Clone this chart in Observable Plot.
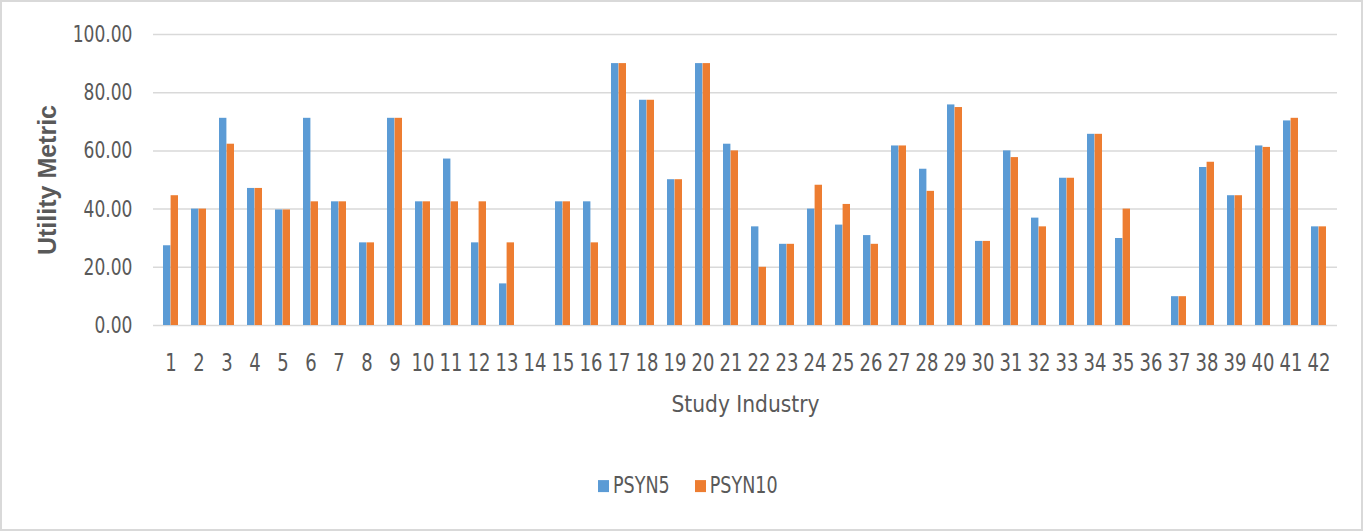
<!DOCTYPE html>
<html>
<head>
<meta charset="utf-8">
<script src="https://cdn.jsdelivr.net/npm/d3@7"></script>
<script src="https://cdn.jsdelivr.net/npm/@observablehq/plot@0.6"></script>
<style>
  body { margin: 0; background: #fff; }
  #wrap { position: relative; width: 1363px; height: 531px; overflow: hidden; background: #fff;
          font-family: "DejaVu Sans Condensed", "Liberation Sans Narrow", sans-serif; color: #595959; }
  #frame { position: absolute; left: 0; top: 0; width: 1359px; height: 527px; border: 2px solid #d9d9d9; pointer-events: none; }
  #chart { position: absolute; left: 0; top: 0; }
  #legend { position: absolute; left: 598px; top: 474px; display: flex; align-items: center; font-size: 19.5px;
            transform: scaleY(1.2); transform-origin: left center; }
  .item { display: flex; align-items: center; margin-right: 25px; }
  .sw { width: 11px; height: 10px; margin-right: 4px; }
</style>
</head>
<body>
<div id="wrap">
  <div id="chart"></div>
  <div id="legend"></div>
  <div id="frame"></div>
</div>
<script>
const studies = d3.range(1, 43);
const seriesNames = ["PSYN5", "PSYN10"];
const seriesColors = ["#5B9BD5", "#ED7D31"];
const psyn5 = [27.4, 40.0, 71.2, 47.1, 39.7, 71.2, 42.5, 28.4, 71.2, 42.5,
               57.2, 28.4, 14.3, 0, 42.5, 42.5, 90.0, 77.4, 50.1, 90.0,
               62.3, 33.9, 27.9, 40.0, 34.5, 30.9, 61.7, 53.7, 75.8, 28.9,
               60.0, 36.9, 50.6, 65.7, 29.9, 0, 9.9, 54.3, 44.6, 61.7,
               70.3, 33.9];
const psyn10 = [44.6, 40.0, 62.3, 47.1, 39.7, 42.5, 42.5, 28.4, 71.2, 42.5,
                42.5, 42.5, 28.4, 0, 42.5, 28.4, 90.0, 77.4, 50.1, 90.0,
                60.0, 20.0, 27.9, 48.2, 41.6, 27.9, 61.7, 46.1, 74.9, 28.9,
                57.7, 33.9, 50.6, 65.7, 40.0, 0, 9.9, 56.1, 44.6, 61.2,
                71.2, 33.9];
const yTicks = [0, 20, 40, 60, 80, 100];
const xTitle = "Study Industry";
const yTitle = "Utility Metric";

const rows5 = studies.map((s, i) => ({study: s, series: seriesNames[0], value: psyn5[i]}));
const rows10 = studies.map((s, i) => ({study: s, series: seriesNames[1], value: psyn10[i]}));

const chart = Plot.plot({
  width: 1363,
  height: 440,
  marginLeft: 153,
  marginRight: 26,
  marginTop: 34,
  marginBottom: 115,
  style: {fontFamily: '"DejaVu Sans Condensed", sans-serif', fontSize: "19px", color: "#595959", background: "transparent", overflow: "visible"},
  x: {type: "band", domain: studies, paddingInner: 0.46, paddingOuter: 0.21, label: null, tickSize: 0, tickPadding: 28},
  y: {domain: [0, 100], ticks: yTicks, tickFormat: d => d.toFixed(2), label: null, tickSize: 0, tickPadding: 21},
  color: {domain: seriesNames, range: seriesColors},
  marks: [
    Plot.ruleY(yTicks, {stroke: "#d9d9d9", strokeWidth: 1.5}),
    Plot.barY(rows5, {x: "study", y: "value", fill: "series", insetRight: 7.6}),
    Plot.barY(rows10, {x: "study", y: "value", fill: "series", insetLeft: 7.6}),
    Plot.text([xTitle], {text: d => d, frameAnchor: "bottom", dy: 86, fontSize: 22.5, fill: "#595959", ariaLabel: "x-title"}),
    Plot.text([yTitle], {text: d => d, frameAnchor: "left", dx: -106, rotate: -90, textAnchor: "middle", fontSize: 25, fontWeight: "bold",
                         fontFamily: '"Liberation Sans", Arial, sans-serif', fill: "#595959", ariaLabel: "y-title"})
  ]
});
document.getElementById("chart").appendChild(chart);

// stretch text like the reference's tall, narrow lettering
function stretch(sel, sx, sy) {
  sel.each(function() {
    const t = this.getAttribute("transform");
    if (t && t.includes("translate")) {
      this.setAttribute("transform", t + ` scale(${sx},${sy})`);
    } else {
      const x = +(this.getAttribute("x") || 0), y = +(this.getAttribute("y") || 0);
      this.setAttribute("transform", `translate(${x},${y}) scale(${sx},${sy}) translate(${-x},${-y})` + (t ? " " + t : ""));
    }
  });
}
const svg = d3.select(chart);
svg.selectAll('g[aria-label="x-axis tick label"]').attr("font-size", 20);
stretch(svg.selectAll('g[aria-label="x-axis tick label"] text'), 1, 1.2);
stretch(svg.selectAll('g[aria-label="y-axis tick label"] text'), 1, 1.22);
stretch(svg.selectAll('g[aria-label="x-title"] text'), 1, 1.22);
stretch(svg.selectAll('g[aria-label="y-title"] text'), 1.22, 1);

const legend = d3.select("#legend");
seriesNames.forEach((name, i) => {
  const item = legend.append("div").attr("class", "item");
  item.append("div").attr("class", "sw").style("background", seriesColors[i]);
  item.append("span").text(name);
});
</script>
</body>
</html>
